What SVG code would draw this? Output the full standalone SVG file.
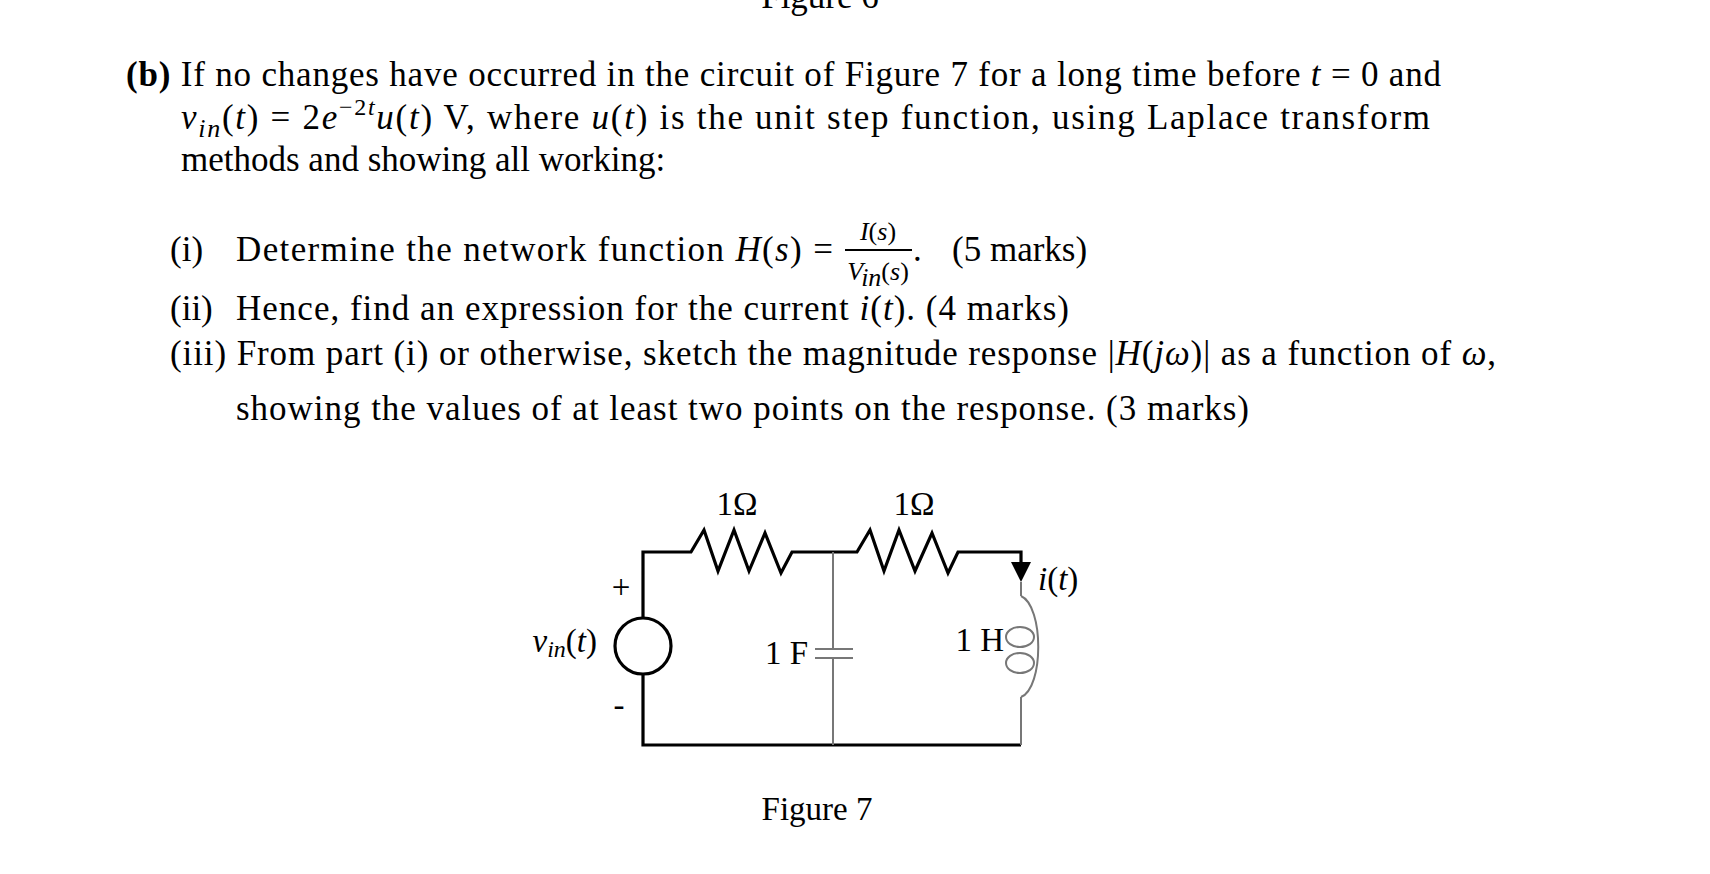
<svg xmlns="http://www.w3.org/2000/svg" width="1710" height="874" viewBox="0 0 1710 874">
<style>
text{font-family:"Liberation Serif","Times New Roman",serif;fill:#000}
.t{font-size:35px}
.c{font-size:33px}
.i{font-style:italic}
.w{fill:none;stroke:#000;stroke-width:3.2}
.g{fill:none;stroke:#777;stroke-width:2}
</style>
<rect width="1710" height="874" fill="#fff"/>
<text class="t" x="820" y="8" text-anchor="middle">Figure 6</text>
<text class="t" x="126" y="86" textLength="1315" lengthAdjust="spacing"><tspan font-weight="bold">(b)</tspan> If no changes have occurred in the circuit of Figure 7 for a long time before <tspan class="i">t</tspan>  = 0 and</text>
<text class="t" x="181" y="129" textLength="1249" lengthAdjust="spacing"><tspan class="i">v</tspan><tspan class="i" font-size="26" dy="8">in</tspan><tspan dy="-8">(</tspan><tspan class="i">t</tspan>) = 2<tspan class="i">e</tspan><tspan font-size="24" dy="-14">−2<tspan class="i">t</tspan></tspan><tspan class="i" dy="14">u</tspan>(<tspan class="i">t</tspan>) V, where <tspan class="i">u</tspan>(<tspan class="i">t</tspan>) is the unit step function, using Laplace transform</text>
<text class="t" x="181" y="171">methods and showing all working:</text>
<text class="t" x="170" y="261">(i)</text>
<text class="t" x="236" y="261" textLength="597" lengthAdjust="spacing">Determine the network function <tspan class="i">H</tspan>(<tspan class="i">s</tspan>) =</text>
<line x1="845" y1="250" x2="912" y2="250" stroke="#000" stroke-width="2"/>
<text font-size="26" x="878" y="240" text-anchor="middle"><tspan class="i">I</tspan>(<tspan class="i">s</tspan>)</text>
<text font-size="26" x="878" y="280" text-anchor="middle"><tspan class="i">V</tspan><tspan class="i" dy="6">in</tspan><tspan dy="-6">(</tspan><tspan class="i">s</tspan>)</text>
<text class="t" x="913" y="261">.</text>
<text class="t" x="952" y="261">(5 marks)</text>
<text class="t" x="170" y="320">(ii)</text>
<text class="t" x="236" y="320" textLength="833" lengthAdjust="spacing">Hence, find an expression for the current <tspan class="i">i</tspan>(<tspan class="i">t</tspan>).   (4 marks)</text>
<text class="t" x="170" y="365" textLength="1326" lengthAdjust="spacing">(iii) From part (i) or otherwise, sketch the magnitude response |<tspan class="i">H</tspan>(<tspan class="i">jω</tspan>)| as a function of <tspan class="i">ω</tspan>,</text>
<text class="t" x="236" y="420" textLength="1013" lengthAdjust="spacing">showing the values of at least two points on the response.   (3 marks)</text>
<g id="connectors">
<path class="w" d="M643,618 V552 H691 L704,530 L718,571 L734,530 L749,571 L765,533 L781,573 L792,552 H857 L870,530 L884,571 L899,530 L915,571 L932,533 L948,573 L958,552 H1021 V565"/>
<path class="w" d="M643,674 V745 H1021"/>
<path class="g" d="M833,552 V649 M833,658 V745 M1021,582 V596 M1021,697 V745"/>
</g>
<g id="source"><circle cx="643" cy="646" r="28" class="w"/>
<text class="c" x="621" y="598" text-anchor="middle" font-size="28">+</text>
<text class="c" x="619" y="716" text-anchor="middle" font-size="28">-</text>
<text class="c" x="597" y="652" text-anchor="end"><tspan class="i">v</tspan><tspan class="i" font-size="24" dy="5">in</tspan><tspan dy="-5">(</tspan><tspan class="i">t</tspan>)</text></g>
<g id="r1"><text class="c" x="737" y="515" text-anchor="middle">1Ω</text></g>
<g id="r2"><text class="c" x="914" y="515" text-anchor="middle">1Ω</text></g>
<g id="cap"><path class="g" d="M815,649 H853 M815,658 H853"/><text class="c" x="808" y="664" text-anchor="end">1 F</text></g>
<g id="ind"><path class="g" d="M1021,596 C1044,606 1044,688 1021,697"/>
<ellipse cx="1020" cy="637" rx="14" ry="10" class="g"/><ellipse cx="1020" cy="663" rx="14" ry="10" class="g"/>
<text class="c" x="1004" y="651" text-anchor="end">1 H</text>
<path d="M1011,562 H1031 L1021,582 Z" fill="#000"/>
<text class="c" x="1038" y="590"><tspan class="i">i</tspan>(<tspan class="i">t</tspan>)</text></g>
<text class="c" x="817" y="820" text-anchor="middle">Figure 7</text>
</svg>
